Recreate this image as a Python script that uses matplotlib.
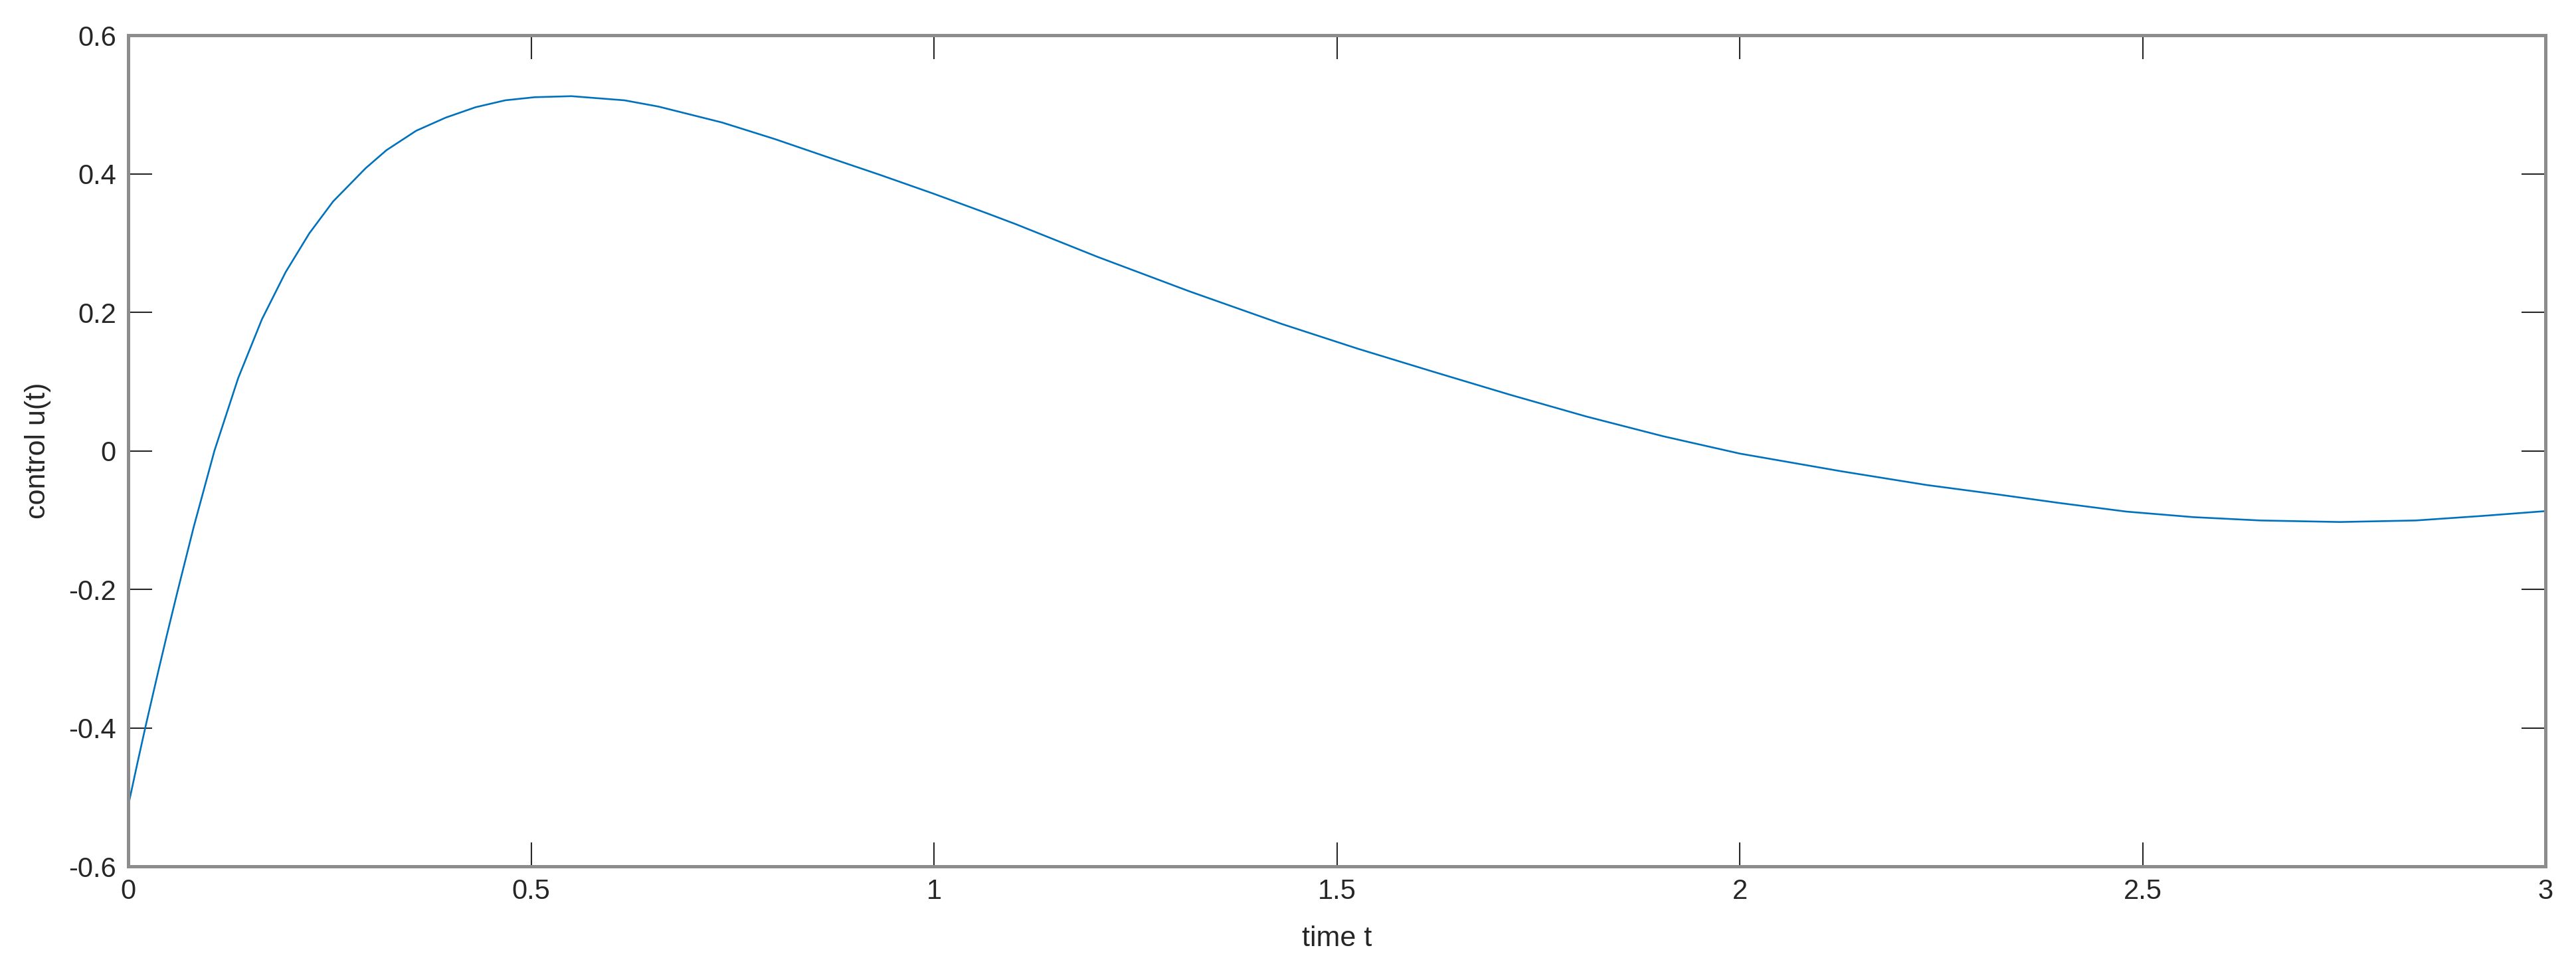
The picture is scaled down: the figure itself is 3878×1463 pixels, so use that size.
import matplotlib
matplotlib.use("Agg")
import matplotlib.pyplot as plt

# control signal u(t)
t_vals = [0.0, 0.0114, 0.0217, 0.037, 0.0482, 0.061, 0.0813, 0.107, 0.1365,
          0.166, 0.1954, 0.2248, 0.2543, 0.2947, 0.3205, 0.3573, 0.394,
          0.431, 0.4678, 0.5045, 0.55, 0.616, 0.658, 0.737, 0.8027, 0.868,
          0.934, 1.0, 1.0656, 1.102, 1.203, 1.3166, 1.432, 1.526, 1.621,
          1.7156, 1.81, 1.905, 2.0, 2.1257, 2.232, 2.315, 2.3977, 2.48,
          2.5633, 2.646, 2.745, 2.839, 2.922, 3.0]
u_vals = [-0.5125, -0.451, -0.397, -0.320, -0.265, -0.204, -0.110, 0.0,
          0.105, 0.190, 0.258, 0.314, 0.360, 0.408, 0.434, 0.462, 0.481,
          0.496, 0.506, 0.5105, 0.512, 0.506, 0.497, 0.474, 0.450, 0.424,
          0.398, 0.371, 0.343, 0.327, 0.280, 0.2304, 0.183, 0.1474, 0.1137,
          0.0807, 0.0494, 0.021, -0.004, -0.0295, -0.0494, -0.0622, -0.0755,
          -0.0878, -0.0958, -0.1006, -0.1028, -0.1006, -0.094, -0.0871]

x_ticks = [0, 0.5, 1, 1.5, 2, 2.5, 3]
x_ticklabels = ["0", "0.5", "1", "1.5", "2", "2.5", "3"]
y_ticks = [-0.6, -0.4, -0.2, 0, 0.2, 0.4, 0.6]
y_ticklabels = ["-0.6", "-0.4", "-0.2", "0", "0.2", "0.4", "0.6"]

plt.rcParams['font.family'] = ['Liberation Sans', 'DejaVu Sans']

fig = plt.figure(figsize=(38.78, 14.63), dpi=100)
ax = fig.add_axes([0.04977, 0.10868, 0.93837, 0.85509])

ax.plot(t_vals, u_vals, color='#0072BD', lw=1.9)

ax.set_xlim(0, 3)
ax.set_ylim(-0.6, 0.6)
ax.set_xticks(x_ticks)
ax.set_xticklabels(x_ticklabels)
ax.set_yticks(y_ticks)
ax.set_yticklabels(y_ticklabels)

for s in ax.spines.values():
    s.set_color('#8c8c8c')
    s.set_linewidth(3.6)

ax.tick_params(direction='in', length=26, width=1.5, color='#262626',
               top=True, right=True, labelsize=30, labelcolor='#262626')
ax.tick_params(axis='x', pad=13)
ax.tick_params(axis='y', pad=13)

ax.set_xlabel('time t', fontsize=31, color='#262626', va='center')
ax.set_ylabel('control u(t)', fontsize=31, color='#262626', va='center')
ax.xaxis.set_label_coords(0.5, -0.0871)
ax.yaxis.set_label_coords(-0.0374, 0.5)

fig.savefig('out.png', dpi=100, facecolor='white')
